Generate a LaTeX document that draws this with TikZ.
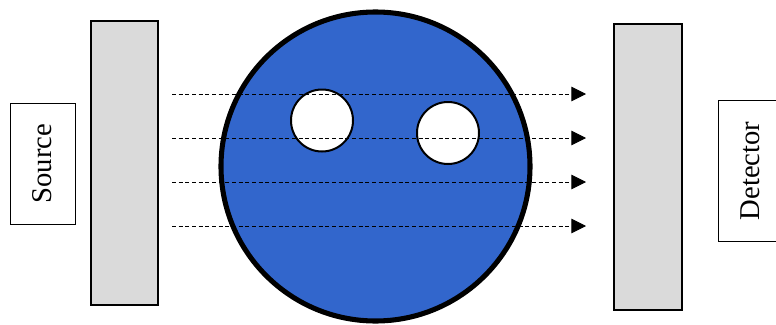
\documentclass[tikz,border=0pt]{standalone}
\usepackage{fontspec}
\setmainfont{Liberation Serif}
\usetikzlibrary{positioning,arrows.meta}
\definecolor{muestra}{RGB}{50,102,204}
\definecolor{placa}{RGB}{218,218,218}

\begin{document}
\begin{tikzpicture}[x=0.75pt, y=-0.75pt, font=\fontsize{21.5}{26}\selectfont,
    etiqueta/.style={draw, line width=0.6pt, fill=white, inner sep=0pt},
    panel/.style={draw, line width=2pt, fill=placa, inner sep=0pt},
    hueco/.style={circle, draw, line width=1.5pt, fill=white, inner sep=0pt, minimum size=46.5pt},
    rayo/.style={densely dashed, line width=0.7pt, -{Triangle[length=11pt, width=11pt]}}]
  \useasboundingbox (0,0) rectangle (776,325);
  % fuente y detector
  \node[etiqueta, minimum width=48.75pt, minimum height=90.75pt] (fuente) at (42.5,163.5) {};
  \node[rotate=90] at (fuente.center) {Source};
  \node[etiqueta, minimum width=48.75pt, minimum height=105.75pt] (detector) at (750.5,171) {};
  \node[rotate=90] at (detector.center) {Detector};
  % placas
  \node[panel, minimum width=50.25pt, minimum height=213pt] (placaA) at (124.5,163) {};
  \node[panel, minimum width=51pt, minimum height=214.5pt] (placaB) at (648,167) {};
  % muestra con huecos
  \node[circle, draw, line width=3.8pt, fill=muestra, inner sep=0pt, minimum size=231.75pt] (muestra) at (375.5,166.5) {};
  \node[hueco] (huecoA) at (322,120.5) {};
  \node[hueco] (huecoB) at (448,133) {};
  % rayos
  \foreach \k/\y in {1/94,2/138,3/182,4/226} {
    \coordinate (ini\k) at (172,\y);
    \coordinate (fin\k) at (586,\y);
    \draw[rayo] (ini\k) -- (fin\k);
  }
\end{tikzpicture}
\end{document}
